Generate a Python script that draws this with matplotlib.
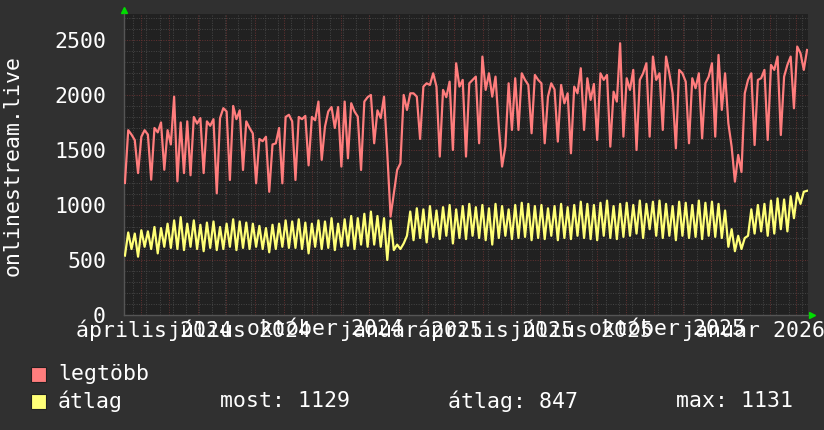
import matplotlib
matplotlib.use("Agg")
import matplotlib.pyplot as plt
import matplotlib.dates as mdates
from matplotlib.patches import Rectangle
import datetime as dt

# idősor: fél hetes lépés (3.5 nap) 2024-03-15-től
start_day = dt.datetime(2024, 3, 15)
step_days = 3.5

legtobb = [
    1200, 1680, 1640, 1590, 1290, 1620, 1680, 1640, 1230, 1700, 1660, 1750,
    1320, 1680, 1550, 1985, 1215, 1750, 1290, 1760, 1270, 1800, 1740, 1790,
    1290, 1760, 1720, 1780, 1106, 1790, 1880, 1850, 1227, 1900, 1780, 1860,
    1318, 1760, 1700, 1650, 1197, 1600, 1580, 1620, 1120, 1550, 1560, 1700,
    1197, 1800, 1820, 1760, 1227, 1800, 1780, 1810, 1360, 1800, 1770, 1940,
    1410, 1712, 1850, 1890, 1700, 1890, 1349, 1940, 1424, 1925, 1850, 1803,
    1318, 1940, 1980, 2000, 1561, 1860, 1790, 1985, 1470, 894, 1106, 1318,
    1379, 2000, 1864, 2015, 2015, 1985, 1600, 2076, 2106, 2091, 2197, 2076,
    1440, 2046, 1980, 2121, 1500, 2288, 2076, 2137, 1440, 2106, 2137, 2167,
    1561, 2349, 2046, 2197, 1985, 2167, 1712, 1349, 1530, 2106, 1682, 2152,
    1682, 2197, 2137, 2091, 1652, 2182, 2137, 2106, 1561, 1985, 2106, 2050,
    1576, 2091, 1924, 2015, 1470, 2076, 2015, 2243, 1682, 2152, 1955, 2100,
    1591, 2197, 2137, 2182, 1530, 2030, 1940, 2470, 1621, 2152, 2046, 2228,
    1500, 2137, 2197, 2288, 1621, 2349, 2137, 2197, 1682, 2349, 2197, 2015,
    1515, 2228, 2197, 2121, 1561, 2152, 2061, 2197, 1606, 2106, 2167, 2288,
    1621, 2364, 1864, 2197, 1742, 1530, 1212, 1455, 1300, 2015, 2137, 2197,
    1545, 2137, 2152, 2228, 1591, 2273, 2228, 2349, 1636, 2167, 2273, 2349,
    1879, 2440, 2379, 2228, 2409,
]

atlag = [
    540, 750, 600, 740, 530, 770, 620, 760, 600, 800, 560, 790,
    620, 830, 610, 860, 600, 890, 590, 830, 620, 860, 600, 820,
    580, 840, 610, 850, 590, 800, 600, 830, 620, 870, 590, 850,
    610, 840, 600, 830, 620, 810, 600, 790, 570, 820, 600, 830,
    620, 860, 610, 850, 610, 870, 600, 840, 560, 830, 620, 860,
    600, 850, 610, 880, 590, 830, 620, 870, 630, 900, 600, 880,
    640, 920, 620, 940, 640, 900, 620, 880, 500, 860, 590, 640,
    600, 650, 720, 940, 680, 970, 700, 960, 660, 990, 710, 950,
    690, 980, 720, 1000, 650, 960, 700, 990, 690, 1010, 720, 980,
    700, 1000, 680, 970, 640, 1010, 700, 990, 720, 960, 690, 1000,
    700, 1020, 710, 1010, 680, 990, 700, 1000, 690, 970, 720, 990,
    680, 1010, 700, 980, 690, 1000, 720, 1030, 700, 1010, 690, 1000,
    680, 1020, 720, 1040, 700, 990, 690, 1010, 710, 1020, 720, 1000,
    740, 1040, 700, 1010, 780, 1030, 720, 1040, 700, 1010, 720, 990,
    680, 1030, 720, 1020, 700, 1000, 710, 1040, 690, 1020, 720, 1030,
    710, 1010, 700, 950, 620, 780, 580, 720, 600, 700, 720, 960,
    740, 1000, 760, 1010, 720, 1040, 740, 1060, 780, 1050, 760, 1080,
    880, 1110, 1010, 1120, 1129,
]

x_labels = ["április 2024", "július 2024", "október 2024", "január 2025",
            "április 2025", "július 2025", "október 2025", "január 2026"]
x_label_dates = [dt.datetime(2024, 4, 15), dt.datetime(2024, 7, 15),
                 dt.datetime(2024, 10, 15), dt.datetime(2025, 1, 15),
                 dt.datetime(2025, 4, 15), dt.datetime(2025, 7, 15),
                 dt.datetime(2025, 10, 15), dt.datetime(2026, 1, 15)]
y_ticks = [0, 500, 1000, 1500, 2000, 2500]
legend_stats = ["most: 1129", "átlag: 847", "max: 1131"]

times = [start_day + dt.timedelta(days=step_days * i) for i in range(len(legtobb))]

canvas_col = "#303030"
back_col = "#212121"
pink = "#ff7d7d"
yellow = "#ffff77"
minor_col = "#464646"
major_col = "#663232"
font = "DejaVu Sans Mono"
fs = 15.5

fig = plt.figure(figsize=(8.24, 4.30), dpi=100, facecolor=canvas_col)
ax = fig.add_axes([124 / 824, 1 - 315 / 430, 684 / 824, 301 / 430])
ax.set_facecolor(back_col)

x0 = dt.datetime(2024, 3, 14)
x1 = dt.datetime(2026, 3, 14)
ax.set_xlim(mdates.date2num(x0), mdates.date2num(x1))
ax.set_ylim(0, 2736)

# rács: kéthetes szürke, havi piros; 100-as szürke, 500-as piros
dots = (0, (1, 1.5))
d = dt.datetime(2024, 3, 24)
while d < x1:
    ax.axvline(mdates.date2num(d), color=minor_col, lw=0.7, ls=dots, zorder=1)
    d += dt.timedelta(days=14)
for yr in (2024, 2025, 2026):
    for mo in range(1, 13):
        d = dt.datetime(yr, mo, 1)
        if x0 < d < x1:
            ax.axvline(mdates.date2num(d), color=major_col, lw=0.7, ls=dots, zorder=2)
for v in range(100, 2736, 100):
    if v % 500 == 0:
        ax.axhline(v, color=major_col, lw=0.7, ls=dots, zorder=2)
    else:
        ax.axhline(v, color=minor_col, lw=0.7, ls=dots, zorder=1)

ax.plot(mdates.date2num(times), legtobb, color=pink, lw=1.6, zorder=5)
ax.plot(mdates.date2num(times), atlag, color=yellow, lw=1.6, zorder=6)

for s in ("top", "right"):
    ax.spines[s].set_visible(False)
for s in ("left", "bottom"):
    ax.spines[s].set_color("#555555")
    ax.spines[s].set_linewidth(1.0)

ax.set_yticks(y_ticks)
ax.set_yticklabels([str(v) for v in y_ticks], family=font, fontsize=fs, color="white")
ax.set_xticks(mdates.date2num(x_label_dates))
ax.set_xticklabels(x_labels, family=font, fontsize=fs, color="white")
ax.tick_params(axis="both", length=0)
ax.tick_params(axis="y", pad=13)
ax.tick_params(axis="x", pad=3)

# zöld nyilak
ax.plot([0], [1.013], marker="^", color="#00dd00", ms=5, transform=ax.transAxes, clip_on=False)
ax.plot([1.006], [0], marker=">", color="#00dd00", ms=5, transform=ax.transAxes, clip_on=False)

fig.text(13 / 824, 1 - 165 / 430, "onlinestream.live", rotation=90, ha="center", va="center",
         family=font, fontsize=fs, color="white")

# jelmagyarázat
for yc, col, name in ((374, pink, "legtöbb"), (401, yellow, "átlag")):
    fig.patches.append(Rectangle((31 / 824, 1 - (yc + 8) / 430), 15 / 824, 15 / 430,
                                 transform=fig.transFigure, facecolor=col,
                                 edgecolor="#202020", lw=0.8))
    fig.text(58 / 824, 1 - yc / 430, name, ha="left", va="center",
             family=font, fontsize=fs, color="white")
for xs, txt in zip((220, 448, 676), legend_stats):
    fig.text(xs / 824, 1 - 401 / 430, txt, ha="left", va="center",
             family=font, fontsize=fs, color="white")

fig.savefig("out.png", dpi=100, facecolor=canvas_col)
